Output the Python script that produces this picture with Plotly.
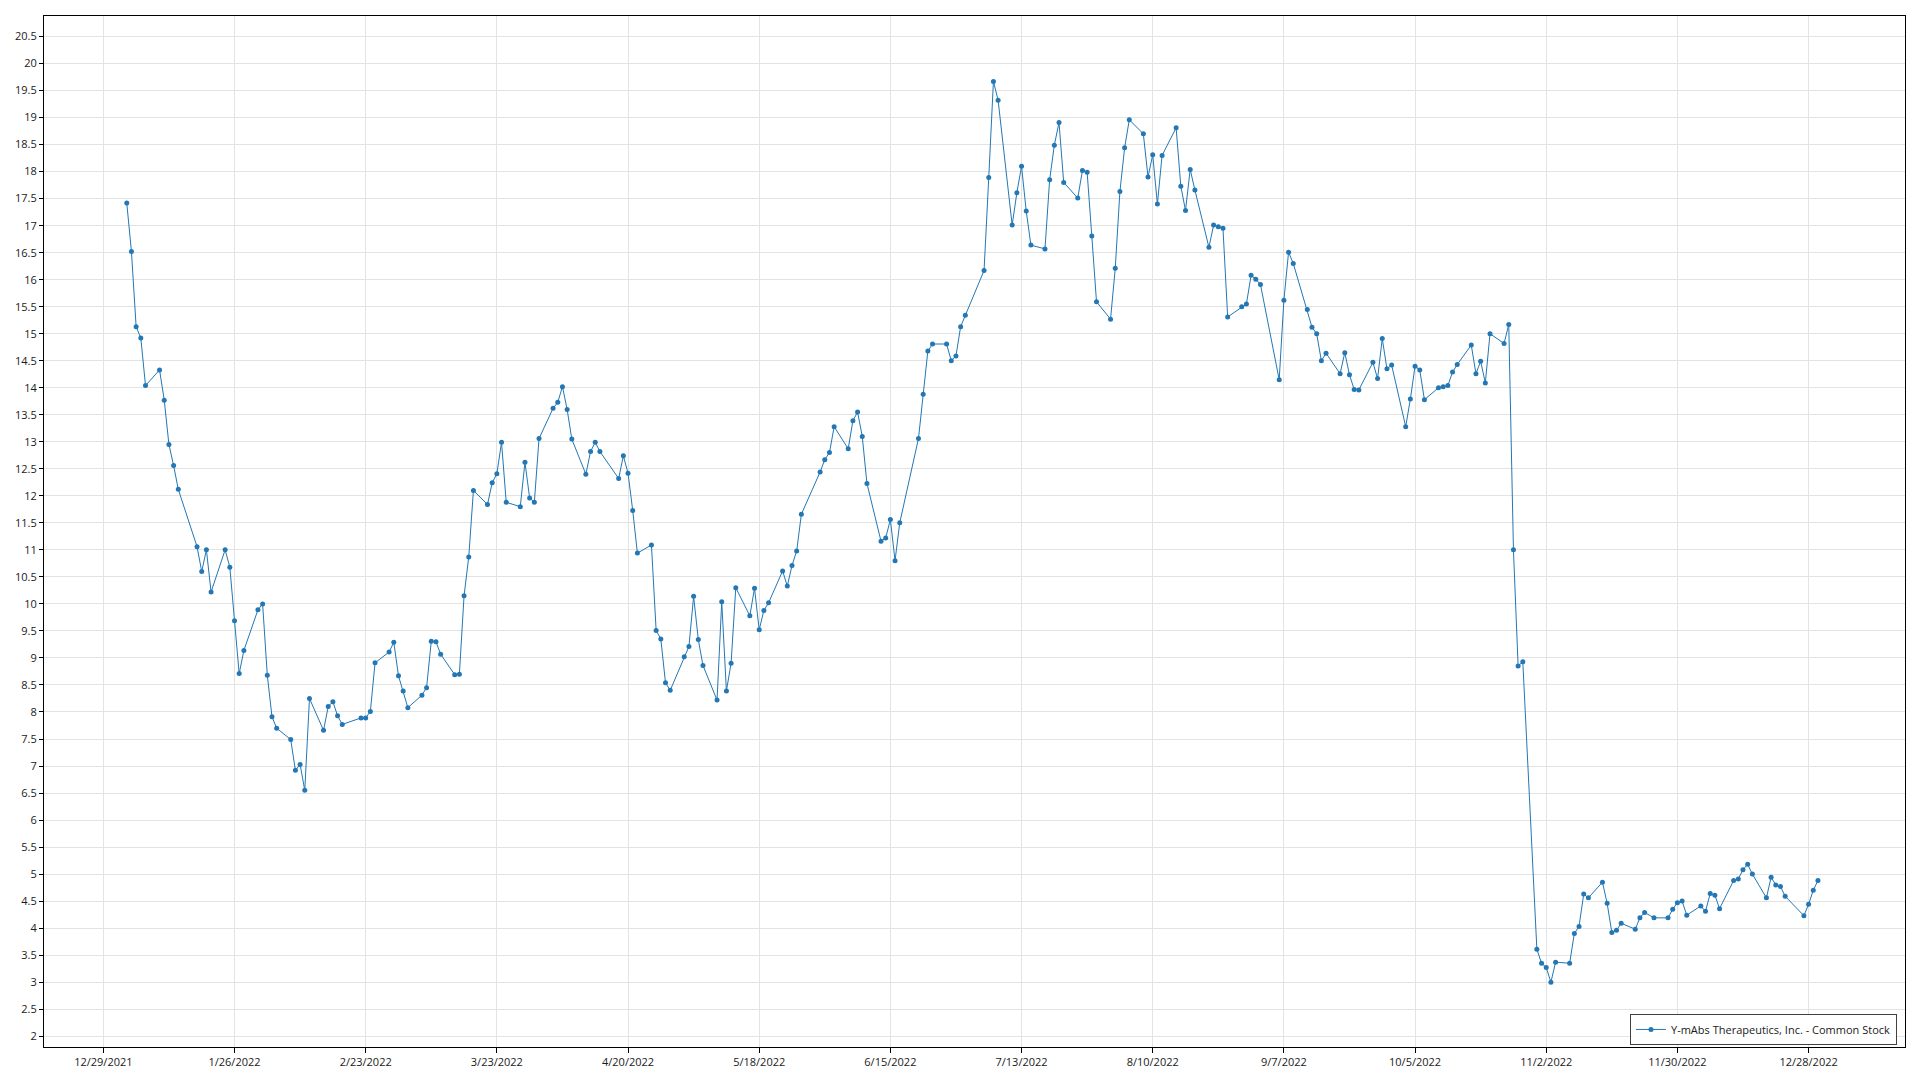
import pandas as pd
import plotly.graph_objects as go

# NYSE holidays 2022 (no trading)
holidays = ["2022-01-17", "2022-02-21", "2022-04-15", "2022-05-30", "2022-06-20",
            "2022-07-04", "2022-09-05", "2022-11-24", "2022-12-26"]

jan = [17.42, 16.52, 15.13, 14.92, 14.04, 14.33, 13.77, 12.95, 12.56, 12.12,
       11.06, 10.60, 11.00, 10.22, 11.00, 10.68, 9.69, 8.71, 9.14, 9.89]
feb = [10.00, 8.68, 7.91, 7.70, 7.49, 6.92, 7.03, 6.55, 8.25, 7.66,
       8.10, 8.19, 7.93, 7.77, 7.89, 7.89, 8.01, 8.91, 9.11]
mar = [9.29, 8.67, 8.39, 8.08, 8.31, 8.45, 9.31, 9.30, 9.07, 8.69,
       8.70, 10.15, 10.87, 12.10, 11.84, 12.24, 12.41, 12.99, 11.88, 11.80,
       12.62, 11.96, 11.88]
apr = [13.06, 13.62, 13.73, 14.02, 13.60, 13.05, 12.40, 12.82, 12.99, 12.82,
       12.32, 12.74, 12.42, 11.73, 10.94, 11.09, 9.51, 9.35, 8.54, 8.40]
may = [9.02, 9.21, 10.14, 9.34, 8.86, 8.22, 10.04, 8.39, 8.90, 10.30,
       9.78, 10.29, 9.52, 9.88, 10.02, 10.61, 10.33, 10.71, 10.98, 11.66, 12.44]
jun = [12.67, 12.80, 13.28, 12.87, 13.39, 13.55, 13.10, 12.23, 11.16, 11.22,
       11.56, 10.80, 11.50, 13.06, 13.88, 14.68, 14.81, 14.81, 14.50, 14.59, 15.13]
jul = [15.34, 16.17, 17.89, 19.67, 19.32, 17.01, 17.61, 18.10, 17.27, 16.64,
       16.57, 17.85, 18.49, 18.91, 17.80, 17.51, 18.02, 17.99, 16.81, 15.59]
aug = [15.27, 16.21, 17.63, 18.44, 18.96, 18.70, 17.90, 18.31, 17.40, 18.30,
       18.81, 17.73, 17.28, 18.04, 17.66, 16.60, 17.01, 16.98, 16.95, 15.31,
       15.50, 15.55, 16.08]
sep = [16.01, 15.91, 14.15, 15.62, 16.51, 16.30, 15.45, 15.12, 15.00, 14.50,
       14.64, 14.26, 14.65, 14.24, 13.97, 13.96, 14.47, 14.17, 14.91, 14.35, 14.42]
oct_ = [13.28, 13.79, 14.40, 14.33, 13.78, 14.00, 14.02, 14.04, 14.29, 14.43,
        14.79, 14.26, 14.49, 14.09, 15.00, 14.82, 15.17, 11.00, 8.85, 8.93, 3.61]
nov = [3.35, 3.27, 3.00, 3.37, 3.35, 3.90, 4.03, 4.63, 4.56, 4.85,
       4.46, 3.92, 3.96, 4.09, 3.98, 4.19, 4.29, 4.19, 4.19, 4.35, 4.47]
dec = [4.50, 4.24, 4.41, 4.31, 4.64, 4.61, 4.36, 4.88, 4.91, 5.08,
       5.18, 5.00, 4.56, 4.94, 4.80, 4.77, 4.59, 4.23, 4.44, 4.70, 4.88]

prices = jan + feb + mar + apr + may + jun + jul + aug + sep + oct_ + nov + dec
dates = pd.bdate_range("2022-01-03", "2022-12-30", freq="C", holidays=holidays)
series_name = "Y-mAbs Therapeutics, Inc. - Common Stock"

FONT = "Open Sans"
BLUE = "#2377b4"
GRID = "#e3e3e3"

fig = go.Figure()
fig.add_trace(go.Scatter(
    x=dates, y=prices, mode="lines+markers", name=series_name,
    line=dict(color=BLUE, width=1),
    marker=dict(color=BLUE, size=5),
    showlegend=True,
))

fig.update_layout(
    width=1912, height=1072,
    margin=dict(l=34, r=15, t=7, b=33),
    paper_bgcolor="white", plot_bgcolor="white",
    font=dict(family=FONT, size=11, color="#1a1a1a"),
    showlegend=True,
    legend=dict(
        x=0.9957, y=0.002, xanchor="right", yanchor="bottom",
        bgcolor="white", bordercolor="#404040", borderwidth=1,
        font=dict(family=FONT, size=11, color="#1a1a1a"),
        itemwidth=30,
    ),
    xaxis=dict(
        type="date",
        range=["2021-12-16 08:00", "2023-01-17 14:00"],
        tickmode="linear", tick0="2021-12-29", dtick=28 * 86400000,
        tickformat="%-m/%-d/%Y",
        showgrid=True, gridcolor=GRID, gridwidth=1,
        showline=True, linecolor="#000000", linewidth=1, mirror=True,
        ticks="outside", ticklen=5, tickcolor="#000000",
        zeroline=False,
    ),
    yaxis=dict(
        range=[1.80, 20.88],
        tickmode="linear", tick0=2, dtick=0.5,
        showgrid=True, gridcolor=GRID, gridwidth=1,
        showline=True, linecolor="#000000", linewidth=1, mirror=True,
        ticks="outside", ticklen=4, tickcolor="#000000",
        zeroline=False,
    ),
)

fig.write_html("out.html")
